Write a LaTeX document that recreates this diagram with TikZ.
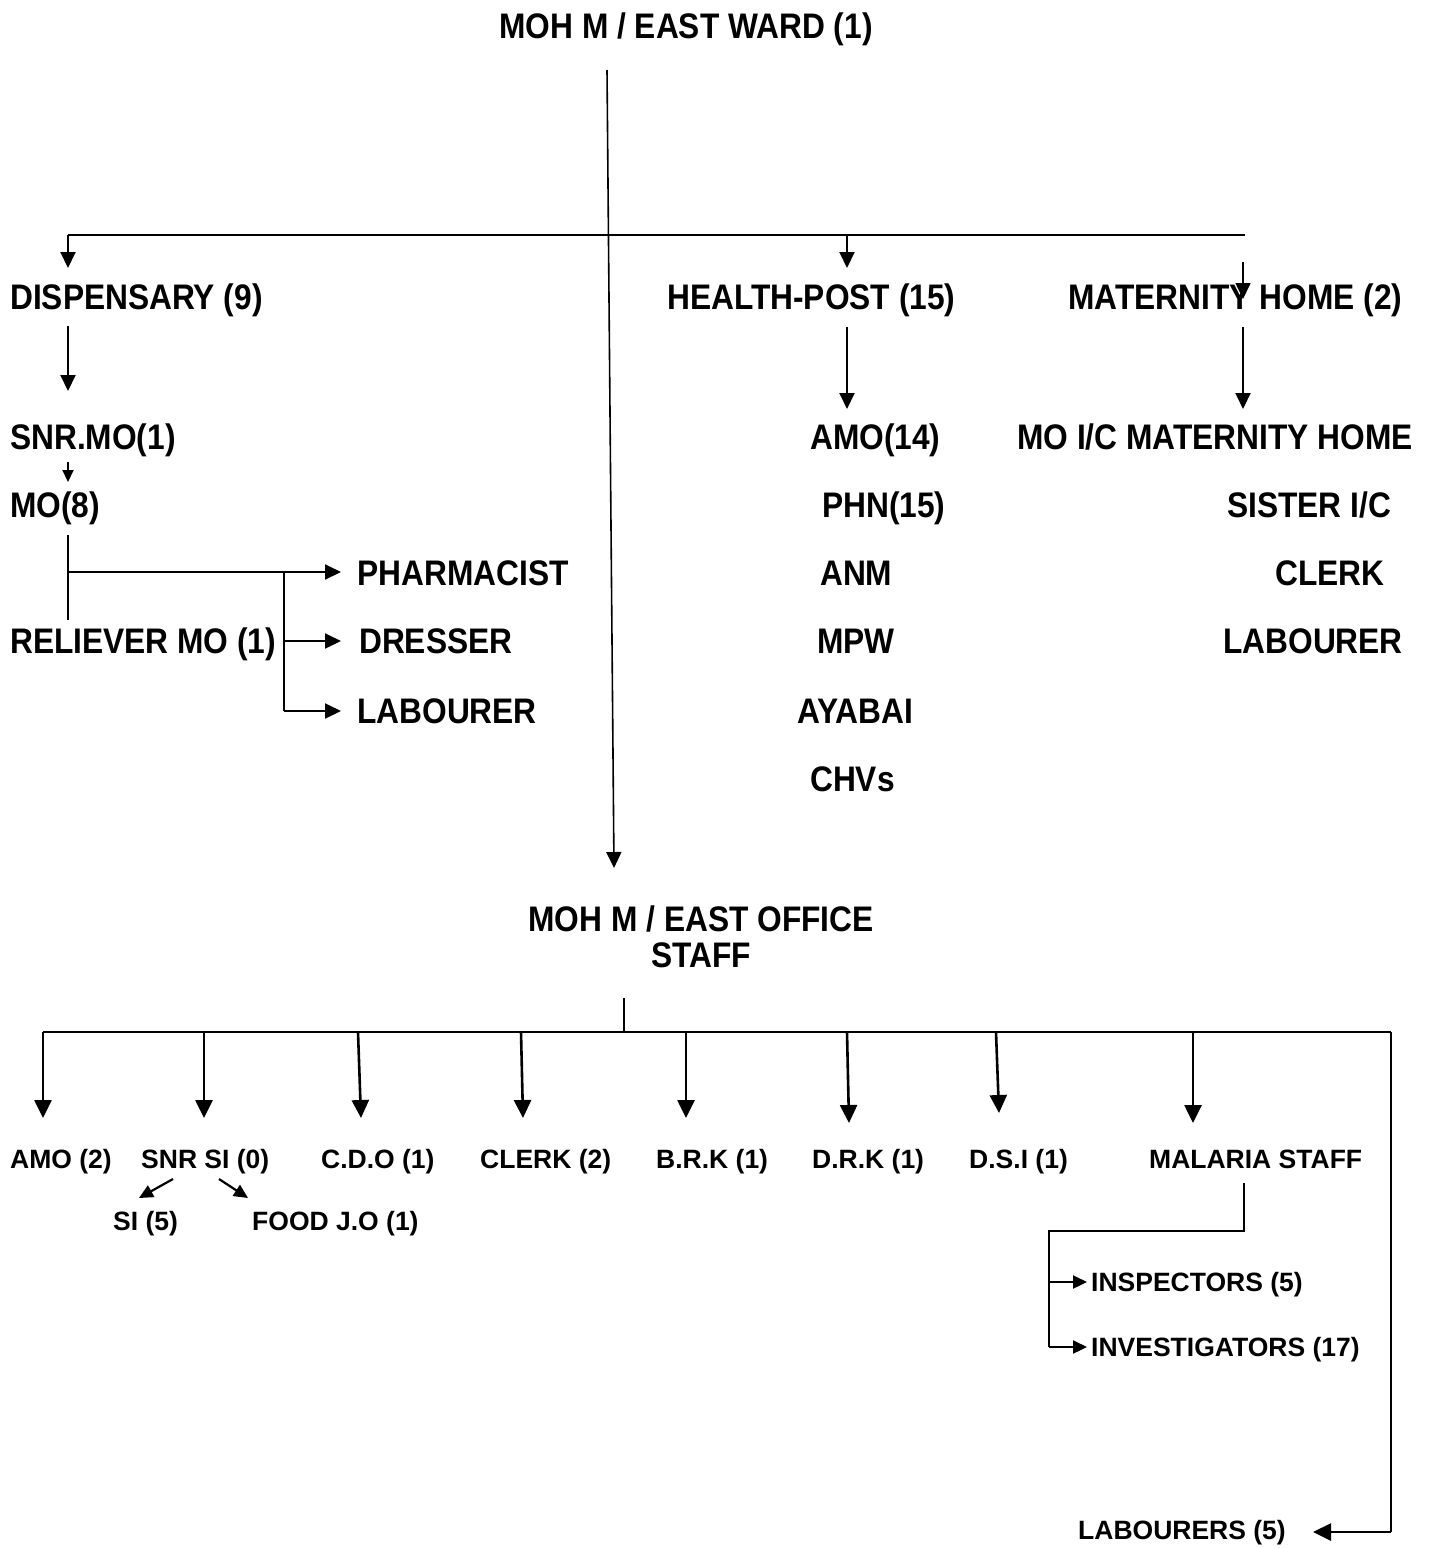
\documentclass[tikz,border=0pt]{standalone}
\usepackage{fontspec}
\setmainfont{Liberation Sans}
\usetikzlibrary{arrows.meta}
\newcommand\tpx[1]{\scalebox{1}[1.12]{#1}}
\begin{document}
\begin{tikzpicture}[x=1pt,y=-1pt,
  toptxt/.style={anchor=base west, inner sep=0pt, font=\fontsize{31.7}{38}\selectfont\bfseries},
  bottxt/.style={anchor=base west, inner sep=0pt, font=\fontsize{26.5}{32}\selectfont\bfseries},
  lnT/.style={line width=2pt},
  arT/.style={lnT, -{Triangle[length=16pt,width=15pt]}},
  lnB/.style={line width=2.6pt},
  arB/.style={lnB, -{Triangle[length=18pt,width=17pt]}},
  arS/.style={line width=2.2pt, -{Triangle[length=14pt,width=13pt]}}]
\useasboundingbox (0,0) rectangle (1435,1548);
% ---------- top texts ----------
\node[toptxt, anchor=base] (title) at (686,38) {\tpx{MOH M / EAST WARD (1)}};
\node[toptxt] (disp) at (10,309) {\tpx{DISPENSARY (9)}};
\node[toptxt] (hp) at (667,309) {\tpx{HEALTH-POST (15)}};
\node[toptxt] (mh) at (1068,309) {\tpx{MATERNITY HOME (2)}};
\node[toptxt] (snrmo) at (10,449) {\tpx{SNR.MO(1)}};
\node[toptxt] (mo) at (10,517) {\tpx{MO(8)}};
\node[toptxt] (pharm) at (357,585) {\tpx{PHARMACIST}};
\node[toptxt] (rel) at (10,653) {\tpx{RELIEVER MO (1)}};
\node[toptxt] (dress) at (359,653) {\tpx{DRESSER}};
\node[toptxt] (lab1) at (357,723) {\tpx{LABOURER}};
\node[toptxt] (amo14) at (810,449) {\tpx{AMO(14)}};
\node[toptxt] (phn) at (822,517) {\tpx{PHN(15)}};
\node[toptxt] (anm) at (820,585) {\tpx{ANM}};
\node[toptxt] (mpw) at (817,653) {\tpx{MPW}};
\node[toptxt] (aya) at (797,723) {\tpx{AYABAI}};
\node[toptxt] (chv) at (810,791) {\tpx{CHVs}};
\node[toptxt] (moic) at (1017,449) {\tpx{MO I/C MATERNITY HOME}};
\node[toptxt] (sis) at (1227,517) {\tpx{SISTER I/C}};
\node[toptxt] (clk1) at (1275,585) {\tpx{CLERK}};
\node[toptxt] (lab2) at (1223,653) {\tpx{LABOURER}};
\node[toptxt, anchor=base] (off1) at (701,931) {\tpx{MOH M / EAST OFFICE}};
\node[toptxt, anchor=base] (off2) at (701,967) {\tpx{STAFF}};
% ---------- bottom texts ----------
\node[bottxt] (amo2) at (10,1168) {AMO (2)};
\node[bottxt] (snrsi) at (141,1168) {SNR SI (0)};
\node[bottxt] (cdo) at (321,1168) {C.D.O (1)};
\node[bottxt] (clk2) at (480,1168) {CLERK (2)};
\node[bottxt] (brk) at (656,1168) {B.R.K (1)};
\node[bottxt] (drk) at (812,1168) {D.R.K (1)};
\node[bottxt] (dsi) at (969,1168) {D.S.I (1)};
\node[bottxt] (mal) at (1149,1168) {MALARIA STAFF};
\node[bottxt] (si) at (113,1230) {SI (5)};
\node[bottxt] (food) at (252,1230) {FOOD J.O (1)};
\node[bottxt] (insp) at (1091,1291) {INSPECTORS (5)};
\node[bottxt] (inv) at (1091,1356) {INVESTIGATORS (17)};
\node[bottxt] (labs) at (1078,1539) {LABOURERS (5)};
% ---------- top connectors ----------
\coordinate (mainS) at (607,70);
\coordinate (mainE) at (614,868);
\draw[arT, line width=1.6pt] (mainS) -- (mainE);
\coordinate (barL) at (68,235);
\coordinate (barR) at (1245,235);
\draw[lnT, line width=1.6pt] (barL) -- (barR);
\coordinate (hpJ) at (847,235);
\draw[arT] (barL) -- (68,268);
\draw[arT] (hpJ) -- (847,268);
\draw[arT, line width=1.6pt] (1243,262) -- (1243,299);
\draw[arT] (68,326) -- (68,391);
\draw[arT, -{Triangle[length=12pt,width=11pt]}] (68,462) -- (68,482);
\coordinate (moJ) at (68,572);
\coordinate (brJ) at (284,572);
\draw[lnT] (68,535) -- (68,620);
\draw[arT] (moJ) -- (341,572);
\draw[lnT] (brJ) -- (284,711);
\draw[arT] (284,641) -- (341,641);
\draw[arT] (284,711) -- (341,711);
\draw[arT] (847,327) -- (847,409);
\draw[arT] (1243,327) -- (1243,409);
% ---------- bottom connectors ----------
\coordinate (offJ) at (624,1032);
\draw[lnT, line width=1.6pt] (624,998) -- (offJ);
\draw[lnB] (43,1032) -- (1391,1032);
\draw[lnT] (1391,1032) -- (1391,1532);
\draw[arB] (1391,1532) -- (1313,1532);
\draw[arB] (43,1032) -- (43,1118);
\draw[arB] (204,1032) -- (204,1118);
\draw[arB] (358,1032) -- (361,1118);
\draw[arB] (521,1032) -- (523,1118);
\draw[arB] (686,1032) -- (686,1118);
\draw[arB] (847,1032) -- (849,1123);
\draw[arB] (996,1032) -- (999,1113);
\draw[arB] (1193,1032) -- (1193,1123);
\draw[arS] (173,1179) -- (139,1198);
\draw[arS] (219,1179) -- (248,1198);
\coordinate (malJ) at (1049,1231);
\draw[lnT] (1244,1183) -- (1244,1231) -- (malJ) -- (1049,1347);
\draw[arS] (1049,1282) -- (1087,1282);
\draw[arS] (1049,1347) -- (1087,1347);
\end{tikzpicture}
\end{document}
